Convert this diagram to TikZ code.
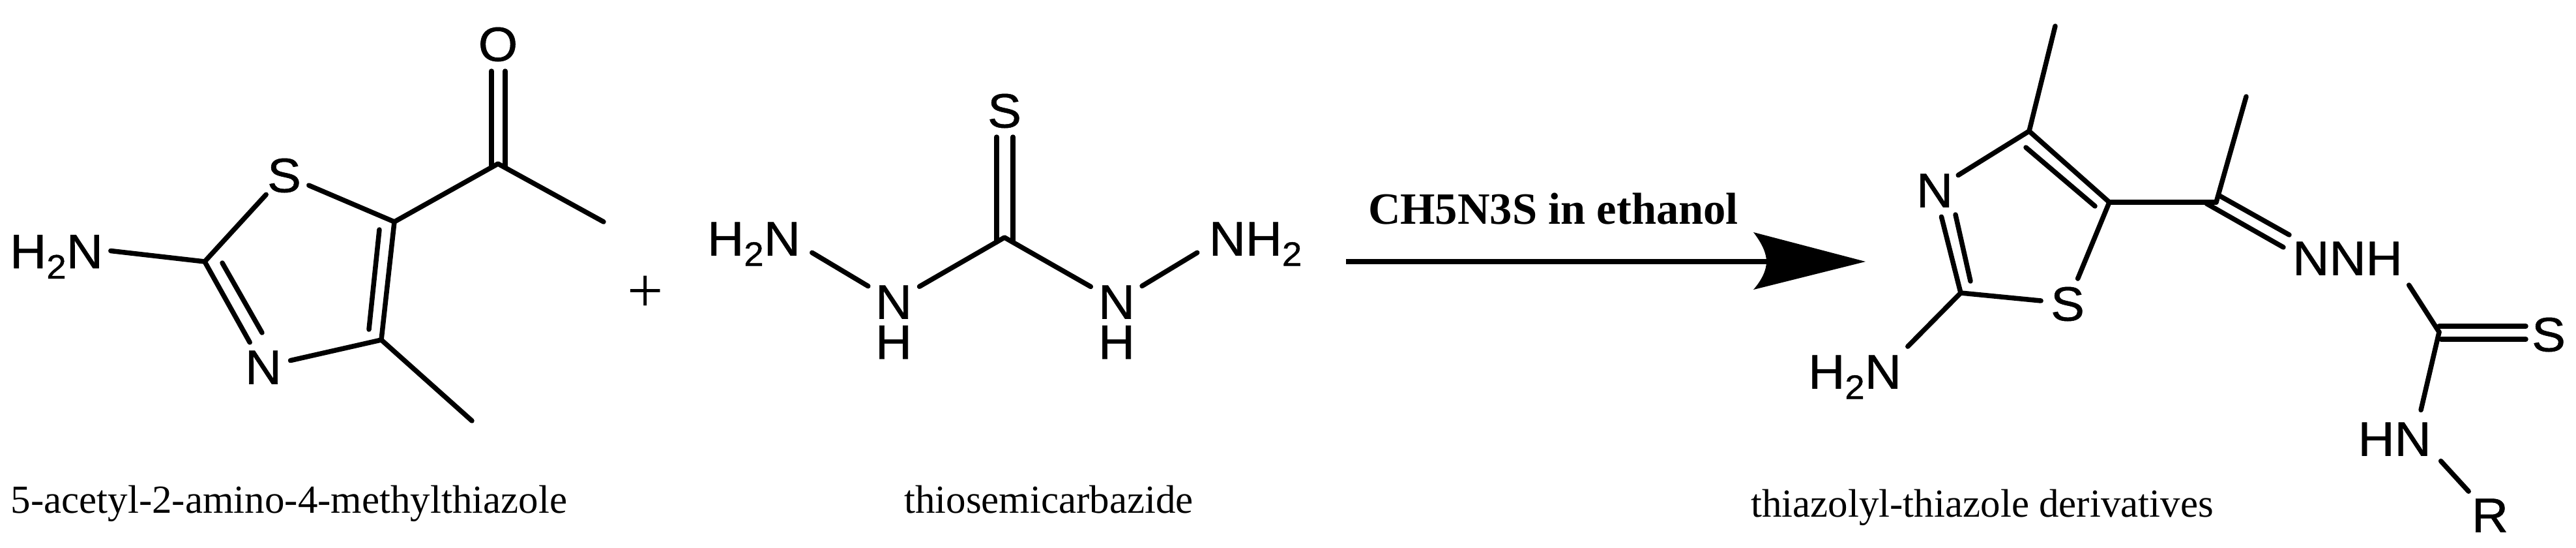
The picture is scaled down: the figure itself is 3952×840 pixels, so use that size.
\documentclass[tikz,border=0pt]{standalone}
\usepackage{fontspec}
\setmainfont{Liberation Serif}
\newfontfamily\atomfont[FakeStretch=1.05,FakeBold=0.8]{Liberation Sans}
\newcommand{\subtwo}{\raisebox{-16pt}{\fontsize{52}{56}\selectfont 2}}
\tikzset{
  bond/.style={line width=7.5pt,line cap=round,line join=round,black},
  atom/.style={shape=circle,inner sep=0pt,outer sep=4pt,text height=53pt,text depth=0pt,font=\atomfont\fontsize{74}{80}\selectfont},
  lone/.style={shape=rectangle,inner sep=0pt,outer sep=0pt,text height=50pt,text depth=0pt,font=\atomfont\fontsize{74}{80}\selectfont},
  group/.style={shape=rectangle,inner sep=0pt,outer xsep=10pt,outer ysep=17pt,text height=53pt,text depth=0pt,font=\atomfont\fontsize{74}{80}\selectfont},
  caption/.style={anchor=base,inner sep=0pt,font=\fontsize{61}{70}\selectfont},
  cond/.style={anchor=base,inner sep=0pt,font=\bfseries\fontsize{68.6}{76}\selectfont},
  plus/.style={anchor=base,inner sep=0pt,font=\fontsize{98}{104}\selectfont},
}
\begin{document}
\begin{tikzpicture}[x=1pt,y=-1pt]
\useasboundingbox (0,0) rectangle (3952,840);
% ---- molecule 1
\node[atom] (O1) at (764,67) {O};
\node[atom] (S1) at (436,268) {S};
\node[atom] (N1) at (404,562) {N};
\node[group,outer xsep=12pt] (HN1) at (86.5,384.5) {H\subtwo N};
\coordinate (c2) at (314,401);
\coordinate (c5) at (605,340);
\coordinate (c4) at (585,521);
\coordinate (cac) at (764,251);
\coordinate (me1) at (926,340);
\coordinate (me2) at (724,645);
\coordinate (i1a) at (341,403);
\coordinate (i1b) at (402,510);
\coordinate (i2a) at (582,352);
\coordinate (i2b) at (566,505);
\coordinate (oa) at (754,109);
\coordinate (oab) at (754,256);
\coordinate (ob) at (775,109);
\coordinate (obb) at (775,256);
\draw[bond] (HN1.east) -- (c2);
\draw[bond] (S1) -- (c2);
\draw[bond] (S1) -- (c5);
\draw[bond] (c2) -- (N1);
\draw[bond] (i1a) -- (i1b);
\draw[bond] (N1) -- (c4);
\draw[bond] (c4) -- (c5);
\draw[bond] (i2a) -- (i2b);
\draw[bond] (c5) -- (cac) -- (me1);
\draw[bond] (c4) -- (me2);
\draw[bond] (oa) -- (oab);
\draw[bond] (ob) -- (obb);
\node[caption] (cap1) at (443.5,786) {5-acetyl-2-amino-4-methylthiazole};
\node[plus] (plus) at (990,478) {+};
% ---- molecule 2
\node[atom] (S2) at (1541,169) {S};
\coordinate (ct) at (1541,364);
\coordinate (sa) at (1529,210);
\coordinate (sab) at (1529,371);
\coordinate (sb) at (1554,210);
\coordinate (sbb) at (1554,371);
\node[group,outer xsep=18pt] (HN2) at (1156.5,365) {H\subtwo N};
\node[group,outer xsep=18pt] (NH2) at (1926,365) {NH\subtwo};
\node[atom,outer sep=7pt] (Na) at (1371,462) {N};
\node[lone] (Ha) at (1371,525) {H};
\node[atom,outer sep=7pt] (Nb) at (1713,462) {N};
\node[lone] (Hb) at (1713,525) {H};
\draw[bond] (sa) -- (sab);
\draw[bond] (sb) -- (sbb);
\draw[bond] (HN2.-14) -- (Na);
\draw[bond] (Na) -- (ct) -- (Nb);
\draw[bond] (Nb) -- (NH2.194);
\node[caption] (cap2) at (1609,786) {thiosemicarbazide};
% ---- arrow
\coordinate (as) at (2065,401);
\coordinate (an) at (2710,401);
\coordinate (at) at (2862,401);
\coordinate (bt) at (2690,356);
\coordinate (bb) at (2690,444);
\draw[line width=8pt,black] (as) -- (an);
\fill[black] (at) -- (bt) .. controls (2703,373) and (2710,388) .. (an) .. controls (2710,414) and (2703,429) .. (bb) -- cycle;
\node[cond] (lab) at (2383,343) {CH5N3S in ethanol};
% ---- molecule 3
\node[atom] (N3) at (2968,291) {N};
\node[atom] (S3) at (3172,465) {S};
\node[group] (HN3) at (2845.5,569) {H\subtwo N};
\node[group] (NNH) at (3601.5,395) {NNH};
\node[atom] (S4) at (3910,512) {S};
\node[group,outer xsep=15pt] (HN4) at (3673.5,672) {HN};
\node[atom,outer sep=10pt] (R) at (3820,789) {R};
\coordinate (d4) at (3113,201);
\coordinate (d5) at (3236,310);
\coordinate (d2) at (3008,449);
\coordinate (dm) at (3153,40);
\coordinate (j1a) at (3108,226);
\coordinate (j1b) at (3214,316);
\coordinate (j2a) at (3000,329);
\coordinate (j2b) at (3023,431);
\coordinate (dc) at (3400,310);
\coordinate (dm2) at (3446,148);
\coordinate (nu) at (3405,300);
\coordinate (nub) at (3512,360);
\coordinate (nl) at (3385,312);
\coordinate (nlb) at (3503,379);
\coordinate (dt) at (3742,509);
\coordinate (su) at (3742,500);
\coordinate (sub) at (3875,500);
\coordinate (sl) at (3745,520);
\coordinate (slb) at (3875,520);
\draw[bond] (dm) -- (d4);
\draw[bond] (N3) -- (d4) -- (d5);
\draw[bond] (j1a) -- (j1b);
\draw[bond] (N3) -- (d2);
\draw[bond] (j2a) -- (j2b);
\draw[bond] (d2) -- (S3);
\draw[bond] (S3) -- (d5);
\draw[bond] (d2) -- (HN3.25);
\draw[bond] (d5) -- (dc);
\draw[bond] (dm2) -- (dc);
\draw[bond] (nu) -- (nub);
\draw[bond] (nl) -- (nlb);
\draw[bond] (NNH.-24) -- (dt);
\draw[bond] (su) -- (sub);
\draw[bond] (sl) -- (slb);
\draw[bond] (dt) -- (HN4.47);
\draw[bond] (HN4.-26) -- (R);
\node[caption] (cap3) at (3041,792) {thiazolyl-thiazole derivatives};
\end{tikzpicture}
\end{document}
